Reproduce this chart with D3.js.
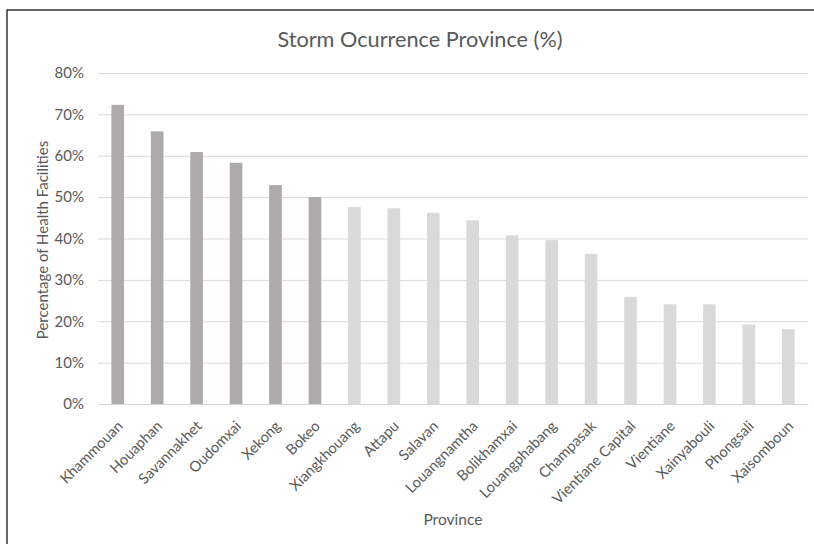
<!DOCTYPE html>
<html><head><meta charset="utf-8">
<script src="https://cdn.jsdelivr.net/npm/d3@7"></script>
<style>body{margin:0;background:#fff}svg{display:block}text{font-family:Lato,"Liberation Sans",sans-serif}</style>
</head><body><svg id="c" width="814" height="544"></svg>
<script>
const provinces = ["Khammouan","Houaphan","Savannakhet","Oudomxai","Xekong","Bokeo","Xiangkhouang","Attapu","Salavan","Louangnamtha","Bolikhamxai","Louangphabang","Champasak","Vientiane Capital","Vientiane","Xainyabouli","Phongsali","Xaisomboun"];
const values = [72.3,65.9,60.9,58.3,52.9,50.0,47.6,47.3,46.2,44.4,40.8,39.6,36.3,25.9,24.1,24.1,19.2,18.1];
const highlighted = ["Khammouan","Houaphan","Savannakhet","Oudomxai","Xekong","Bokeo"];
const yTicks = [0,10,20,30,40,50,60,70,80];

const svg = d3.select("#c");
svg.append("rect").attr("x",7).attr("y",10).attr("width",900).attr("height",700)
  .attr("fill","#fff").attr("stroke","#000").attr("stroke-width",1.2);

const x = d3.scaleBand().domain(provinces).range([98,808]).paddingInner(0.68).paddingOuter(0.34);
const y = d3.scaleLinear().domain([0,80]).range([404,73]);

const gy = svg.append("g").attr("transform","translate(98,0)")
  .call(d3.axisLeft(y).tickValues(yTicks).tickFormat(d=>d+"%").tickSize(-710).tickPadding(14));
gy.select(".domain").remove();
gy.selectAll(".tick line").attr("stroke","#d9d9d9").attr("stroke-width",1);
gy.selectAll(".tick text").attr("fill","#595959").style("font-size","15px");

svg.append("g").selectAll("rect").data(provinces).join("rect")
  .attr("x",d=>x(d)).attr("width",x.bandwidth())
  .attr("y",(d,i)=>y(values[i])).attr("height",(d,i)=>y(0)-y(values[i]))
  .attr("fill",d=>highlighted.includes(d)?"#aeaaaa":"#d9d9d9");

const gx = svg.append("g").attr("transform","translate(0,404)")
  .call(d3.axisBottom(x).tickSize(0).tickPadding(0));
gx.select(".domain").attr("stroke","#d9d9d9");
gx.selectAll(".tick text").attr("fill","#595959").style("font-size","14.7px")
  .attr("text-anchor","end").attr("x",0).attr("y",0).attr("dy",0)
  .attr("transform","translate(6,23) rotate(-45)");

svg.append("text").attr("x",420).attr("y",47).attr("text-anchor","middle")
  .attr("fill","#595959").style("font-size","21.7px").text("Storm Ocurrence Province (%)");
svg.append("text").attr("transform","translate(48,240) rotate(-90)").attr("text-anchor","middle")
  .attr("fill","#595959").style("font-size","15px").text("Percentage of Health Facilities");
svg.append("text").attr("x",453).attr("y",525).attr("text-anchor","middle")
  .attr("fill","#595959").style("font-size","15.6px").text("Province");
</script></body></html>
